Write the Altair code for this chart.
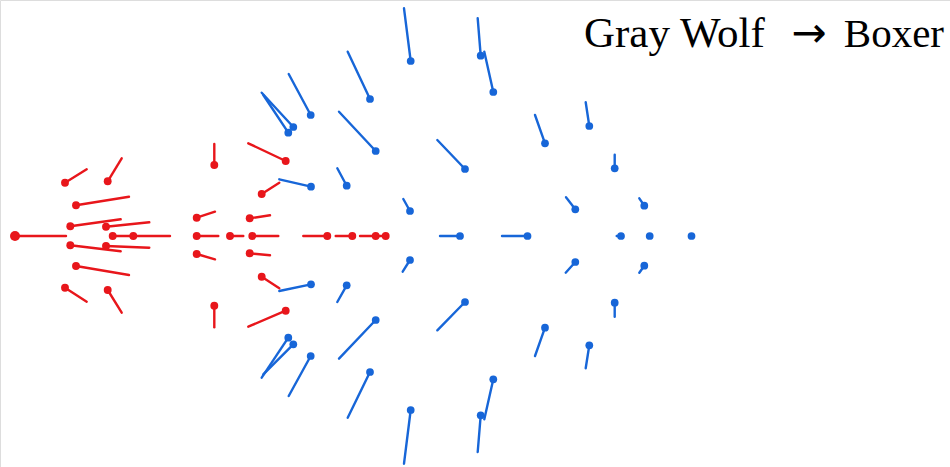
import altair as alt
import pandas as pd

# Head position of each particle and the end of its trailing segment
# (x grows right, y grows downward; 236 is the axis of symmetry).
red_x = [15, 65, 107.7, 76, 70.3, 106, 112.7, 133.3, 70.3, 106, 76, 65, 107.7,
         214.3, 196.7, 196.7, 230, 252.3, 249.7, 196.7, 249.7, 214.3,
         285.7, 261.7, 261.7, 285.7, 327.3, 352.3, 375.7, 385.7]
red_y = [236, 182.7, 181.3, 205.3, 226.3, 226.7, 236, 236, 245.3, 246, 266, 287.7, 290,
         165, 217.7, 236, 236, 236, 218.3, 254, 253.3, 305.7,
         161, 194, 276.7, 310.7, 236, 236, 236, 236]
red_tx = [66, 86.7, 121.7, 129, 120.7, 149.3, 133.3, 170, 120.7, 149.3, 129, 86.7, 121.7,
          214.3, 215, 218.3, 243.3, 278.3, 270, 215, 270, 214.3,
          248.3, 279.3, 279.3, 248.3, 303.3, 335.7, 360, 376]
red_ty = [236, 169.3, 158.3, 196.7, 219.3, 222.3, 236, 236, 251.3, 247.7, 275, 301.7, 312.7,
          144, 211.7, 236, 236, 236, 215.3, 259.3, 255.3, 327.3,
          143.3, 182.7, 288.3, 326.7, 236, 236, 236, 236]

blue_x = [410.7, 480.7, 493.3, 370, 310.7, 293.3, 288.3, 375.7, 465, 545, 311, 346.7, 410,
          589.3, 614.7, 575.3, 644.3, 460, 527.5, 621, 649.7, 691.5,
          410, 311, 346.7, 465, 375.7, 545, 288.3, 293.3, 310.7, 370, 410.7, 493.3, 480.7,
          575.3, 644.3, 614.7, 589.3]
blue_y = [61, 55.7, 92, 99, 115, 127, 132.7, 151, 169, 143.3, 186.7, 185.7, 211,
          126, 168.3, 209.3, 205.7, 236, 236, 236, 236, 236,
          260, 284.3, 285.3, 302, 320, 327.7, 337.7, 344.3, 356, 372, 410, 379.3, 415.3,
          262, 265.7, 302.7, 345.3]
blue_tx = [404, 477.7, 484.3, 347.7, 288.7, 261.7, 263.3, 339, 437.3, 535, 279.3, 337.3, 403.3,
           585.7, 614.7, 566, 639.3, 440, 502, 616.7, 649.7, 691.5,
           402.7, 279.3, 337.3, 437.3, 339, 535, 261.7, 263.3, 288.7, 347.7, 404, 484.3, 477.7,
           565.7, 639.3, 614.7, 585.7]
blue_ty = [8.3, 18.3, 51.7, 51.7, 74, 92.7, 95, 111.7, 140, 115, 179.3, 168.3, 199,
           102.3, 154.7, 197.3, 198.3, 236, 236, 236, 236, 236,
           271.7, 291, 302, 330.3, 358.7, 356, 377.7, 374.3, 396, 417.7, 463.7, 419.3, 452,
           272.7, 272.7, 316.7, 368.3]

red_size = [100] + [62] * (len(red_x) - 1)
blue_size = [60] * len(blue_x)

source_label = "Gray Wolf"
arrow_label = "\u2192"
target_label = "Boxer"

RED = "#e8161b"
BLUE = "#1766d8"

red = pd.DataFrame({"x": red_x, "y": red_y, "tx": red_tx, "ty": red_ty,
                    "s": red_size, "g": "red"})
blue = pd.DataFrame({"x": blue_x, "y": blue_y, "tx": blue_tx, "ty": blue_ty,
                     "s": blue_size, "g": "blue"})
df = pd.concat([blue, red], ignore_index=True)

xs = alt.Scale(domain=[0, 950], nice=False, zero=False)
ys = alt.Scale(domain=[0, 467], nice=False, zero=False, reverse=True)
cs = alt.Scale(domain=["red", "blue"], range=[RED, BLUE])

base = alt.Chart(df)

tails = base.mark_rule(strokeWidth=2.4, strokeCap="round").encode(
    x=alt.X("x:Q", scale=xs, axis=None),
    y=alt.Y("y:Q", scale=ys, axis=None),
    x2="tx:Q",
    y2="ty:Q",
    color=alt.Color("g:N", scale=cs, legend=None),
)

heads = base.mark_circle(opacity=1).encode(
    x=alt.X("x:Q", scale=xs, axis=None),
    y=alt.Y("y:Q", scale=ys, axis=None),
    size=alt.Size("s:Q", scale=None, legend=None),
    color=alt.Color("g:N", scale=cs, legend=None),
)


def caption(text, x, align, font, size):
    return alt.Chart(pd.DataFrame({"t": [text]})).mark_text(
        font=font, fontSize=size, align=align, baseline="alphabetic", color="black",
    ).encode(x=alt.value(x), y=alt.value(47), text="t:N")


title = alt.layer(
    caption(source_label, 584, "left", "Liberation Serif", 43),
    caption(arrow_label, 809, "center", "DejaVu Sans", 42),
    caption(target_label, 944, "right", "Liberation Serif", 41),
)

chart = alt.layer(tails, heads, title).properties(
    width=950, height=467,
    autosize=alt.AutoSizeParams(type="none"),
    padding=0,
).configure_view(stroke=None).configure(background="white")

chart.save("out.html", embed_options={"renderer": "svg", "actions": False})
